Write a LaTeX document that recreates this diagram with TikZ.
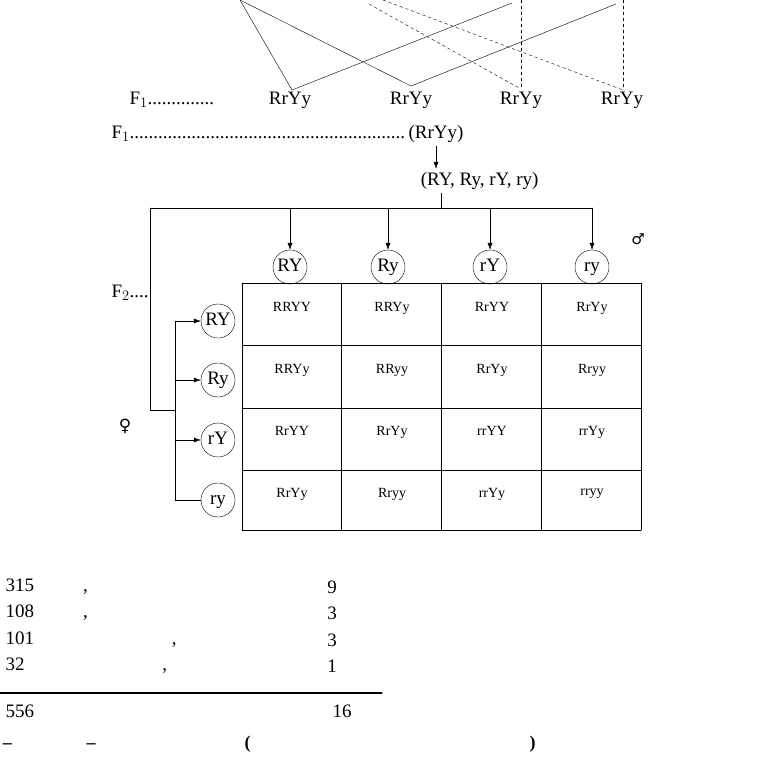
\documentclass[tikz,border=0pt]{standalone}
\usepackage{fontspec}
\setmainfont{Liberation Serif}
\newfontfamily\symb{DejaVu Sans}
\newfontfamily\hindi{Liberation Serif}
\usetikzlibrary{arrows.meta}
\tikzset{
  big/.style={font=\fontsize{19}{21}\selectfont},
  cell/.style={font=\fontsize{14}{17}\selectfont,align=center},
  gam/.style={draw,circle,minimum size=34,inner sep=0pt,text height=12pt,text depth=4pt,font=\fontsize{19}{21}\selectfont},
  arr/.style={-{Latex[length=7pt,width=5pt]}}
}
\newcommand{\hi}[1]{{\hindi #1}}
\begin{document}
\begin{tikzpicture}[line cap=round,line join=round,x=1pt,y=-1pt]
\useasboundingbox (0,0) rectangle (763,761);

% Kreuzungslinien
\draw (240,0) -- (292,90) -- (512,3);
\draw (240,0) -- (411,86) -- (616,4);
\draw[dashed] (369,4) -- (519,88);
\draw[dashed] (521,0) -- (521,88);
\draw[dashed] (383,0) -- (623,90);
\draw[dashed] (623,0) -- (623,90);

% F1
\node[big,anchor=west] (fa) at (126,100) {F$_1$..............};
\foreach \x/\n in {290/a,411/b,521/c,622/d}
  \node[big] (p\n) at (\x,100) {RrYy};
\node[big,anchor=west] (fb) at (108,134) {F$_1$..........................................................};
\node[big] (rr) at (436,134) {(RrYy)};
\node[big] (gm) at (433,181) {\hi{युग्मक} (RY, Ry, rY, ry)};
\draw[arr] (rr.south) -- (rr.south |- gm.north);

% Gitter
\foreach \x in {242,341,441,541,641} \draw (\x,283) -- (\x,530);
\foreach \y in {283,345,408,470,530} \draw (242,\y) -- (641,\y);

% maennliche Gameten
\coordinate (top) at (441,208);
\draw (gm.south -| top) -- (top);
\draw (150,208) -- (592,208);
\foreach \x/\g in {290/RY,388/Ry,490/rY,592/ry}{
  \node[gam] (m\g) at (\x,267) {\g};
  \draw[arr] (\x,208) -- (m\g);
}
\node[cell] (gmr) at (641,222) {\hi{युग्मक}};
\node[font=\fontsize{15}{15}\symb] (mar) at (638,239) {♂};

% weibliche Gameten
\node[big,anchor=west] (f2) at (108,293) {F$_2$....};
\draw (150,208) -- (150,410) -- (175,410);
\draw (175,321) -- (175,500);
\foreach \y/\g in {321/RY,380/Ry,440/rY,500/ry}
  \node[gam] (w\g) at (218,\y) {\g};
\foreach \g in {RY,Ry,rY} \draw[arr] (175,0 |- w\g) -- (w\g);
\draw (175,500) -- (wry);
\node[font=\fontsize{17}{17}\symb] (fem) at (125,426) {♀};
\node[cell] (gmf) at (127,447) {\hi{युग्मक}};

% Zellen
\foreach \c/\r/\t/\p in {
  1/1/RRYY/गोल पीले,2/1/RRYy/गोल पीले,3/1/RrYY/गोल पीले,4/1/RrYy/गोल पीले,
  1/2/RRYy/गोल पीले,2/2/RRyy/गोल हरे,3/2/RrYy/गोल पीले,4/2/Rryy/गोल हरे,
  1/3/RrYY/गोल पीले,2/3/RrYy/गोल पीले,3/3/rrYY/झुर्रीदार पीले,4/3/rrYy/झुर्रीदार पीले,
  1/4/RrYy/गोल पीले,2/4/Rryy/गोल हरे,3/4/rrYy/झुर्रीदार पीले,4/4/rryy/झुर्रीदार हरे}
  \node[cell] (c\c\r) at ({192+100*\c},{252+62*\r}) {\t\\[-2pt]\hi{\p}};

% Anteile
\node[font=\fontsize{19}{21}\selectfont\bfseries] (rat) at (333,563) {\hi{अनुपात}};
\foreach \y/\t/\n in {587/{315 गोल, पीले बीज}/9,613/{108 गोल, हरे बीज}/3,640/{101 झुर्रीदार, पीले बीज}/3,666/{32 झुर्रीदार, हरे बीज}/1}{
  \node[big,anchor=west] at (2,\y) {\hi{\t}};
  \node[big] at (332,\y) {\n};
}
\draw[line width=1.3pt] (0,693) -- (382,693);
\node[big,anchor=west] (sum) at (2,711) {\hi{556 बीज}};
\node[big] (tot) at (342,711) {16};
\node[font=\fontsize{18}{21}\selectfont\bfseries] (cap) at (381,744) {\hi{चित्र–दो अलग–अलग लक्षणों ( बीजों की आकृति एवं रंग ) की स्वतन्त्र वंशानुगति}};
\end{tikzpicture}
\end{document}
